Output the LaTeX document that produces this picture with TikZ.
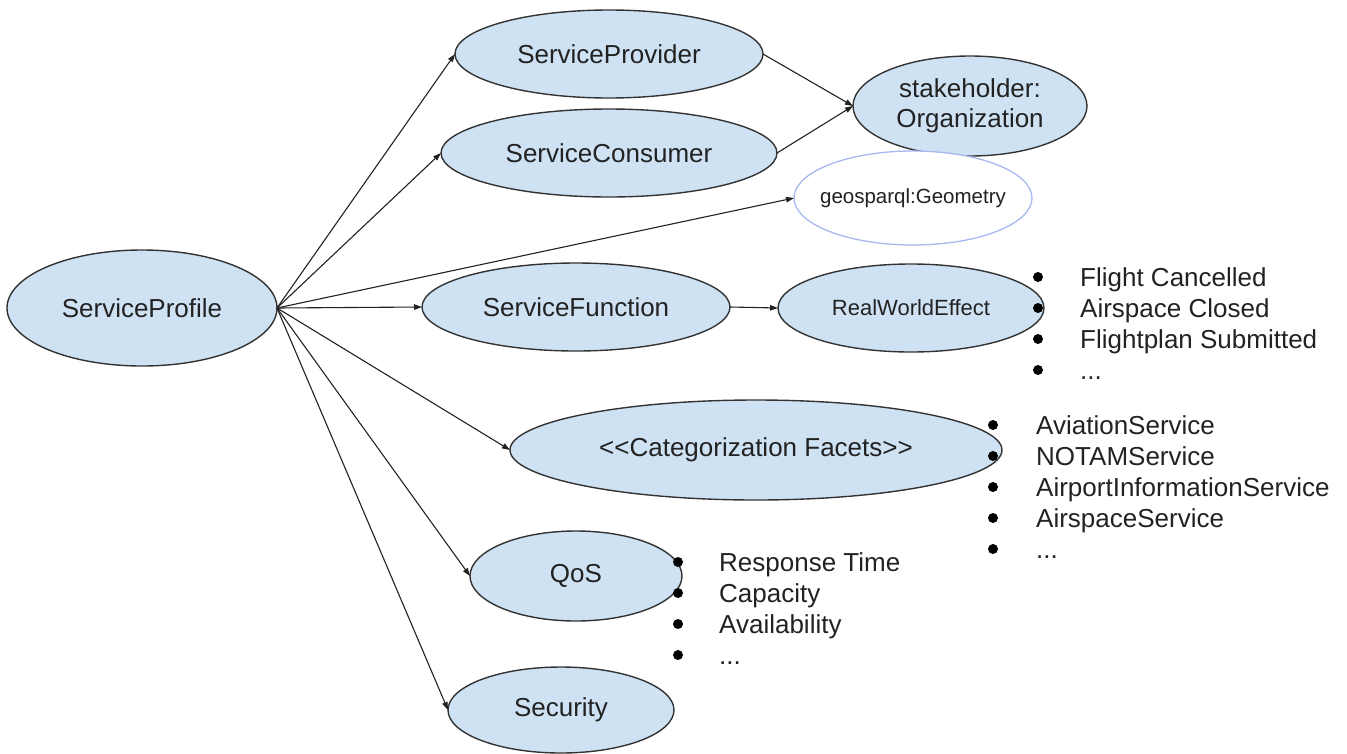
\documentclass[tikz,border=0pt]{standalone}
\usepackage{fontspec}
\setmainfont{Liberation Sans}
\usetikzlibrary{shapes.geometric,arrows.meta}

\definecolor{ovalfill}{HTML}{CFE2F3}
\definecolor{ovalline}{HTML}{333333}
\definecolor{geoline}{HTML}{A8B8F0}
\definecolor{inktext}{HTML}{222222}

\tikzset{
  oval/.style={ellipse, draw=ovalline, fill=ovalfill, line width=1.4pt,
    inner sep=0pt, outer sep=0pt, text=inktext,
    font=\fontsize{26}{30}\selectfont},
  geooval/.style={ellipse, draw=geoline, fill=white, line width=1.3pt,
    inner sep=0pt, outer sep=0pt},
  link/.style={draw=inktext, line width=1.1pt,
    -{Triangle[length=8pt,width=5.5pt]}},
  dot/.style={circle, fill=black, inner sep=0pt, minimum size=10pt},
  item/.style={anchor=base west, inner sep=0pt, text=inktext,
    font=\fontsize{26}{30}\selectfont},
}

\begin{document}
\begin{tikzpicture}[x=1pt,y=-1pt]
\useasboundingbox (0,0) rectangle (1347,753);

% service nodes
\node[oval, minimum width=270pt, minimum height=116pt] (sp) at (142,308) {ServiceProfile};
\node[oval, minimum width=308pt, minimum height=88pt] (prov) at (609,54) {ServiceProvider};
\node[oval, minimum width=336pt, minimum height=88pt] (cons) at (609,153) {ServiceConsumer};
\node[oval, minimum width=234pt, minimum height=100pt, align=center,
      font=\fontsize{26}{30}\selectfont] (org) at (970,106) {stakeholder:\\Organization};
\node[geooval, minimum width=238pt, minimum height=94pt] (geo) at (913,198) {};
\node[text=inktext, font=\fontsize{20.5}{24}\selectfont] (geotext) at (geo) {geosparql:Geometry};
\node[oval, minimum width=308pt, minimum height=88pt] (func) at (576,307) {ServiceFunction};
\node[oval, minimum width=266pt, minimum height=88pt,
      font=\fontsize{22}{26}\selectfont] (rwe) at (911,308) {RealWorldEffect};
\node[oval, minimum width=492pt, minimum height=100pt] (cat) at (756,450) {<{}<Categorization Facets>{}>};
\node[oval, minimum width=212pt, minimum height=90pt] (qos) at (576,576) {QoS};
\node[oval, minimum width=226pt, minimum height=86pt] (sec) at (561,710) {Security};

% relations
\draw[link] (sp.east) -- (prov.west);
\draw[link] (sp.east) -- (cons.west);
\draw[link] (sp.east) -- (geo.west);
\draw[link] (sp.east) -- (func.west);
\draw[link] (sp.east) -- (cat.west);
\draw[link] (sp.east) -- (qos.west);
\draw[link] (sp.east) -- (sec.west);
\draw[link] (prov.east) -- (org.west);
\draw[link] (cons.east) -- (org.west);
\draw[link] (func.east) -- (rwe.west);

% real world effects
\node[dot] (r1) at (1038,277) {};
\node[dot] (r2) at (1038,308) {};
\node[dot] (r3) at (1038,339) {};
\node[dot] (r4) at (1038,370) {};
\node[item] (rt1) at (1080,286) {Flight Cancelled};
\node[item] (rt2) at (1080,317) {Airspace Closed};
\node[item] (rt3) at (1080,348) {Flightplan Submitted};
\node[item] (rt4) at (1080,379) {...};

% categorization facets
\node[dot] (c1) at (993,425) {};
\node[dot] (c2) at (993,456) {};
\node[dot] (c3) at (993,487) {};
\node[dot] (c4) at (993,518) {};
\node[dot] (c5) at (993,549) {};
\node[item] (ct1) at (1036,434) {AviationService};
\node[item] (ct2) at (1036,465) {NOTAMService};
\node[item] (ct3) at (1036,496) {AirportInformationService};
\node[item] (ct4) at (1036,527) {AirspaceService};
\node[item] (ct5) at (1036,558) {...};

% quality of service
\node[dot] (q1) at (678,562) {};
\node[dot] (q2) at (678,593) {};
\node[dot] (q3) at (678,624) {};
\node[dot] (q4) at (678,655) {};
\node[item] (qt1) at (719,571) {Response Time};
\node[item] (qt2) at (719,602) {Capacity};
\node[item] (qt3) at (719,633) {Availability};
\node[item] (qt4) at (719,664) {...};
\end{tikzpicture}
\end{document}
